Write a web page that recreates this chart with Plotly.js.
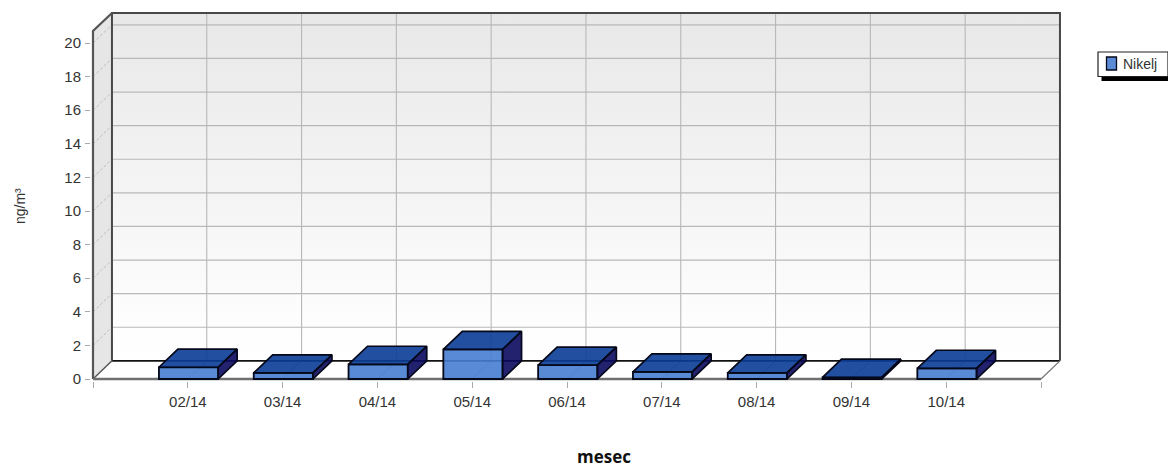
<!DOCTYPE html>
<html>
<head>
<meta charset="utf-8">
<script src="https://cdn.plot.ly/plotly-3.0.1.min.js"></script>
<style>html,body{margin:0;padding:0;background:#fff;overflow:hidden}</style>
</head>
<body>
<div id="chart" style="width:1168px;height:467px"></div>
<script>
var categories = ['02/14','03/14','04/14','05/14','06/14','07/14','08/14','09/14','10/14'];
var nikelj = [0.7,0.36,0.87,1.76,0.82,0.42,0.36,0.1,0.63];
var yTicks = [0,2,4,6,8,10,12,14,16,18,20];
var seriesName = 'Nikelj';

// 3D box depth, in axis units
var DX = 0.2, DY = 1.08, XN = categories.length + 1, XMAX = XN + DX, YMAX = 21.79, YFRONT = YMAX - DY, BW = 0.625, SHIFT = 0.008;
var M = {l:91, r:105, t:10, b:86}, W = 1168, H = 467;
var RX = [-0.0211, 10.232], RY = [-0.119, 21.964];
var PW = W - M.l - M.r, PH = H - M.t - M.b;
function px(x){return (x - M.l)/PW;}
function py(y){return (H - M.b - y)/PH;}

var FRONT = 'rgba(70,125,210,0.9)', TOP = 'rgba(10,60,150,0.9)', SIDE = 'rgba(10,10,95,0.9)', EDGE = '#050818';
var idx = categories.map(function(_, i){return i + 1;});

function line(xs, ys, color, width, dash){
  return {type:'scatter', mode:'lines', x:xs, y:ys, xaxis:'x', yaxis:'y', showlegend:false, hoverinfo:'skip',
          cliponaxis:false, line:{color:color, width:width, dash:dash || 'solid'}};
}
function poly(xs, ys, fill, opts){
  var t = {type:'scatter', mode:'lines', x:xs, y:ys, fill:'toself', fillcolor:fill, showlegend:false, hoverinfo:'skip',
           cliponaxis:false, xaxis:'x', yaxis:'y', line:{color:'rgba(0,0,0,0)', width:0}};
  for (var k in (opts||{})) t[k] = opts[k];
  return t;
}

var traces = [];
// walls
traces.push(poly([DX,XMAX,XMAX,DX,DX],[DY,DY,YMAX,YMAX,DY],'#f0f0f0',
  {fillgradient:{type:'vertical', start:DY, stop:YMAX, colorscale:[[0,'#ffffff'],[0.12,'#fdfdfd'],[1,'#e8e8e8']]}}));
traces.push(poly([0,DX,DX,0,0],[0,DY,YMAX,YFRONT,0],'#e6e6e6'));

// grid
var gx=[], gy=[], lx=[], ly=[], dx=[], dy=[], vx=[], vy=[];
yTicks.forEach(function(v){
  if (v>0){ gx.push(DX,XMAX,null); gy.push(v+DY,v+DY,null); }
  lx.push(0,DX,null); ly.push(v,v+DY,null);
});
idx.forEach(function(i){
  vx.push(i+DX,i+DX,null); vy.push(DY,YMAX,null);
  dx.push(i,i+DX,null); dy.push(0,DY,null);
});
traces.push(line(gx,gy,'#b8b8b8',1.2));
traces.push(line(vx,vy,'#b8b8b8',1.1));
traces.push(line(lx,ly,'#bdbdbd',1,'3px,2px'));
traces.push(line(dx,dy,'#a8a8a8',1));

// frame
traces.push(line([DX,XMAX],[DY,DY],'#111',1.6));
traces.push(line([XMAX,XMAX,DX,DX],[DY,YMAX,YMAX,DY],'#484848',2));
traces.push(line([DX,0,0],[YMAX,YFRONT,0],'#555',2.2));
traces.push(line([0,DX],[0,DY],'#555',1.4));
traces.push(line([XN,XMAX],[0,DY],'#777',1.3));
traces.push(line([0,XN],[0,0],'#707070',2.4));

// bars
var topX=[], topY=[], sideX=[], sideY=[];
idx.forEach(function(i,n){
  var l=i+SHIFT-BW/2, r=i+SHIFT+BW/2, v=nikelj[n];
  topX.push(l,r,r+DX,l+DX,l,null); topY.push(v,v,v+DY,v+DY,v,null);
  sideX.push(r,r+DX,r+DX,r,r,null); sideY.push(0,DY,v+DY,v,0,null);
});
traces.push({type:'bar', name:seriesName, x:idx, y:nikelj, width:BW, offset:SHIFT-BW/2, xaxis:'x2', yaxis:'y2', cliponaxis:false, showlegend:false,
  hoverinfo:'skip', marker:{color:FRONT, line:{color:EDGE, width:1.8}}});
traces.push(poly(topX,topY,TOP,{xaxis:'x2',yaxis:'y2',line:{color:EDGE,width:1.7}}));
traces.push(poly(sideX,sideY,SIDE,{xaxis:'x2',yaxis:'y2',line:{color:EDGE,width:1.7}}));

var legendFont = {family:'"Liberation Sans", Arial, sans-serif', size:14, color:'#333'};
var tickFont = {family:'"Liberation Sans", Arial, sans-serif', size:15, color:'#333'};
var layout = {
  width:W, height:H, margin:M, paper_bgcolor:'#fff', plot_bgcolor:'rgba(0,0,0,0)', showlegend:false, hovermode:false,
  xaxis:{range:RX, showgrid:false, zeroline:false, showline:false, ticks:'outside', ticklen:6, tickcolor:'#aaa', tickwidth:1, ticklabelstandoff:1,
         tickmode:'array', tickvals:[0].concat(idx,[XN]), ticktext:[''].concat(categories,['']), tickfont:tickFont, fixedrange:true},
  yaxis:{range:RY, showgrid:false, zeroline:false, showline:false, ticks:'outside', ticklen:5, tickcolor:'#aaa', tickwidth:1, ticklabelstandoff:1,
         tickmode:'array', tickvals:yTicks, ticktext:yTicks.map(String), tickfont:tickFont, fixedrange:true},
  xaxis2:{range:RX, overlaying:'x', visible:false, fixedrange:true},
  yaxis2:{range:RY, overlaying:'y', visible:false, fixedrange:true},
  shapes:[
    {type:'rect', xref:'paper', yref:'paper', x0:px(1101.5), x1:px(1168), y0:py(81), y1:py(70), fillcolor:'#000', line:{width:0}},
    {type:'rect', xref:'paper', yref:'paper', x0:px(1098), x1:px(1168), y0:py(76.5), y1:py(52), fillcolor:'#fff', line:{color:'#222', width:1.2}},
    {type:'rect', xref:'paper', yref:'paper', x0:px(1106.5), x1:px(1116.5), y0:py(70), y1:py(57), fillcolor:'#5b8bd6', line:{color:EDGE, width:1.3}}
  ],
  annotations:[
    {text:seriesName, xref:'paper', yref:'paper', x:px(1122), y:py(64.5), xanchor:'left', yanchor:'middle', showarrow:false, font:legendFont, borderpad:0},
    {text:'mesec', xref:'paper', yref:'paper', x:px(604), y:py(456), xanchor:'center', yanchor:'middle', showarrow:false,
     font:{family:'"Open Sans", sans-serif', size:17, color:'#111', weight:700}},
    {text:'ng/m³', xref:'paper', yref:'paper', x:px(20), y:py(206), xanchor:'center', yanchor:'middle', textangle:-90, showarrow:false,
     font:legendFont}
  ]
};
Plotly.newPlot('chart', traces, layout, {displayModeBar:false, staticPlot:true});
</script>
</body>
</html>
